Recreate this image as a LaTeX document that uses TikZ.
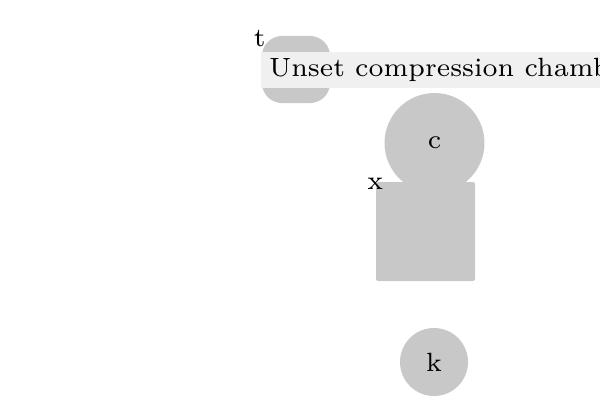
\documentclass[tikz,border=0pt]{standalone}
\usepackage{tikz}
\definecolor{blobgray}{HTML}{C8C8C8}
\definecolor{taggray}{HTML}{F0F0F0}
\tikzset{
        blob/.style = {inner sep=0pt, text centered, fill=blobgray, draw=none},
        blob_r/.style = {blob, rectangle, rounded corners=0.186cm,
            minimum width=0.634cm, minimum height=0.625cm},
        blob_c/.style = {blob, circle, minimum size=#1},
        blob_s/.style = {blob, rectangle, rounded corners=0.02cm,
            minimum size=0.923cm},
        tag_t/.style = {rectangle, fill=taggray, anchor=west,
            inner xsep=2.2pt, inner ysep=1.6pt},
        corner_lbl/.style = {label distance=0pt, anchor=center, yshift=-0.8pt}
    }
\begin{document}
\begin{tikzpicture}[x=0.009324cm, y=-0.009324cm, font=\scriptsize]
            \useasboundingbox (0,0) rectangle (600,400);
            % top left tag and its label
            \node [blob_r, label={[corner_lbl, xshift=-0.4pt]north west:t}] (t) at (296,69.5) {};
            \node [tag_t] (chamber) at (260,70) {Unset compression chamber};
            % centre column
            \node [blob_c=0.932cm] (c) at (434.5,143) {c};
            \node [blob_s, label={[corner_lbl]north west:x}] (x) at (425.5,231.5) {};
            \node [blob_c=0.634cm] (k) at (434,362) {k};
        \end{tikzpicture}
\end{document}
